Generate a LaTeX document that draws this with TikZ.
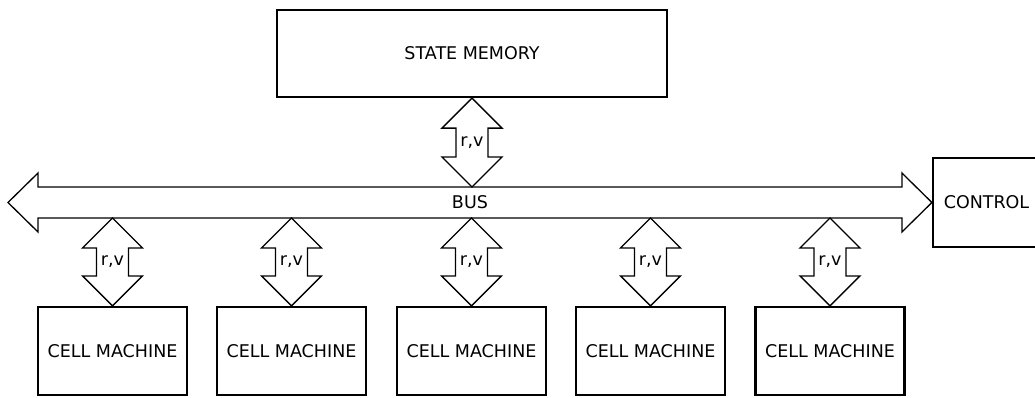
\documentclass[tikz,border=0pt]{standalone}
\usepackage{fontspec}
\setmainfont{DejaVu Sans}
\usetikzlibrary{calc}
\begin{document}
\begin{tikzpicture}[x=1pt,y=1pt,
  font=\fontsize{17.5}{20}\selectfont,
  unit/.style={draw=black, line width=2.2pt, minimum width=149pt, minimum height=88pt, inner sep=0pt},
  outline/.style={draw=black, line width=1.3pt, line join=miter},
  lbl/.style={inner sep=0pt}]
\useasboundingbox (0,0) rectangle (1035,397);
\clip (0,0) rectangle (1035,397);

% units
\node[unit, minimum width=390pt, minimum height=87pt] (mem) at (472,343.5) {STATE MEMORY};
\node[unit, minimum width=107pt, minimum height=89pt] (ctrl) at (986.5,194.5) {CONTROL};
\foreach \i/\x in {1/112.5, 2/291.5, 3/471.5, 4/650.5, 5/830} {
  \node[unit] (cell\i) at (\x,46) {CELL MACHINE};
}

% bus: horizontal double arrow from the left end to CONTROL
\coordinate (busL) at (8,194.5);
\coordinate (busT) at (0,210);
\coordinate (busB) at (0,179);
\draw[outline] (busL) -- ++(30,29.5) -- ++(0,-14) -- ($(ctrl.west)+(-30,15.5)$)
  -- ++(0,14) -- (ctrl.west) -- ++(-30,-29.5) -- ++(0,14)
  -- ($(busL)+(30,-15.5)$) -- ++(0,-14) -- cycle;
\node[lbl] (buslbl) at ($(busL)!0.5!(ctrl.west)$) {BUS};

% vertical double arrow between two points on one vertical line
\newcommand{\rvarrow}[3]{%
  \draw[outline] (#1) -- ([shift={(30,-30)}]#1) -- ([shift={(16,-30)}]#1)
    -- ([shift={(16,30)}]#2) -- ([shift={(30,30)}]#2) -- (#2)
    -- ([shift={(-30,30)}]#2) -- ([shift={(-16,30)}]#2)
    -- ([shift={(-16,-30)}]#1) -- ([shift={(-30,-30)}]#1) -- cycle;
  \node[lbl] (#3) at ($(#1)!0.5!(#2)$) {r,v};}

\coordinate (memB) at (mem.south |- busT);
\rvarrow{mem.south}{memB}{rvmem}
\foreach \i in {1,...,5} {
  \coordinate (top\i) at (cell\i.north |- busB);
  \rvarrow{top\i}{cell\i.north}{rv\i}
}
\end{tikzpicture}
\end{document}
